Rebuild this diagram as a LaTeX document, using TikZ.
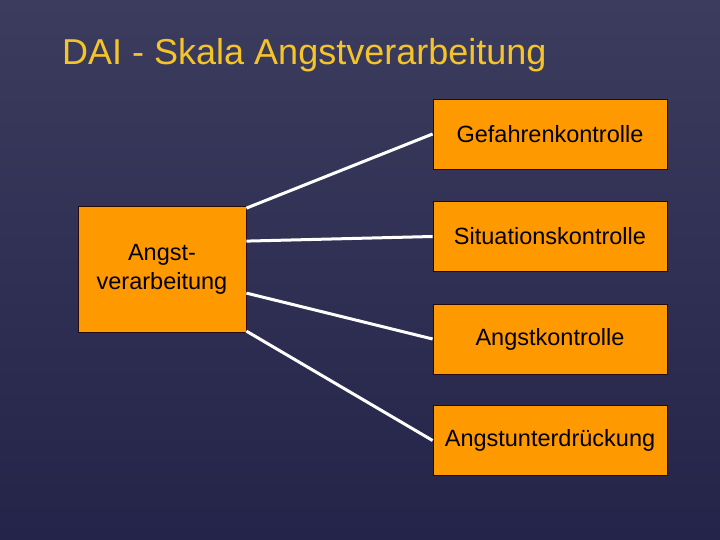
\documentclass[tikz,border=0pt]{standalone}
\usepackage{fontspec}
\setmainfont{Liberation Sans}
\usepackage{xcolor}
\usepackage{tikz}
\usetikzlibrary{positioning,calc}
\definecolor{bgtop}{RGB}{60,60,94}
\definecolor{bgbot}{RGB}{36,36,74}
\definecolor{titleyellow}{RGB}{245,196,40}
\definecolor{boxorange}{RGB}{255,153,0}
\definecolor{boxline}{RGB}{40,10,10}

\begin{document}
\begin{tikzpicture}[x=1pt, y=-1pt,
    scalebox/.style={draw=boxline, line width=0.8pt, fill=boxorange, inner sep=0pt,
        font=\fontsize{23.5}{29}\selectfont, text=black, align=center},
    itembox/.style={scalebox, minimum width=234pt, minimum height=70pt},
    link/.style={draw=white, line width=3pt}]
    % Background
    \shade[top color=bgtop, bottom color=bgbot] (0,0) rectangle (720,540);
    \useasboundingbox (0,0) rectangle (720,540);

    % Title
    \node[anchor=base west, inner sep=0pt, text=titleyellow,
          font=\fontsize{36}{40}\selectfont] (title) at (62,65) {DAI - Skala Angstverarbeitung};

    % Boxes
    \node[scalebox, minimum width=168pt, minimum height=126pt] (main) at (162,269) {Angst-\\verarbeitung};
    \node[itembox] (gefahr) at (550,134) {Gefahrenkontrolle};
    \node[itembox] (situation) at (550,236.5) {Situationskontrolle};
    \node[itembox] (angstk) at (550,339) {Angstkontrolle};
    \node[itembox] (angstu) at (550,440.5) {Angstunterdr\"uckung};

    % Connectors
    \coordinate (m1) at ($(main.north east)!0.02!(main.south east)$);
    \coordinate (m2) at ($(main.north east)!0.28!(main.south east)$);
    \coordinate (m3) at ($(main.north east)!0.69!(main.south east)$);
    \coordinate (m4) at ($(main.north east)!0.99!(main.south east)$);
    \draw[link] (m1) -- (gefahr.west);
    \draw[link] (m2) -- (situation.west);
    \draw[link] (m3) -- (angstk.west);
    \draw[link] (m4) -- (angstu.west);
\end{tikzpicture}
\end{document}
